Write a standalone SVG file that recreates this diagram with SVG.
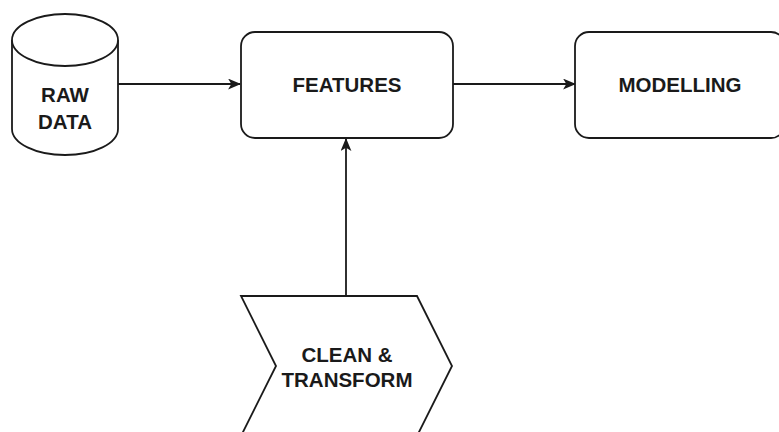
<svg xmlns="http://www.w3.org/2000/svg" width="779" height="432" viewBox="0 0 779 432">
  <style>
    .shape { fill: #ffffff; stroke: #1a1a1a; stroke-width: 1.8; }
    .edge { fill: none; stroke: #1a1a1a; stroke-width: 1.8; }
    .label { font-family: "Liberation Sans", Arial, sans-serif; font-weight: bold; font-size: 20.5px; fill: #1a1a1a; text-anchor: middle; dominant-baseline: central; }
  </style>
  <defs>
    <marker id="arrow" viewBox="0 0 12 10" refX="11" refY="5" markerWidth="13" markerHeight="11" markerUnits="userSpaceOnUse" orient="auto">
      <path d="M0,0 L12,5 L0,10 L3,5 Z" fill="#1a1a1a"/>
    </marker>
  </defs>
  <rect width="779" height="432" fill="#ffffff"/>

  <g id="connectors">
    <path class="edge" d="M118,84 L240,84" marker-end="url(#arrow)"/>
    <path class="edge" d="M453,84 L575,84" marker-end="url(#arrow)"/>
    <path class="edge" d="M346,296 L346,139" marker-end="url(#arrow)"/>
  </g>

  <g id="raw-data">
    <path class="shape" d="M12,40 L12,129 A53,26 0 0 0 118,129 L118,40 A53,26 0 0 0 12,40 Z"/>
    <path class="shape" d="M12,40 A53,26 0 0 0 118,40" fill="none"/>
    <text class="label" x="65" y="94">RAW</text>
    <text class="label" x="65" y="121">DATA</text>
  </g>

  <g id="features">
    <rect class="shape" x="241" y="32" width="212" height="106" rx="14" ry="14"/>
    <text class="label" x="347" y="84">FEATURES</text>
  </g>

  <g id="modelling">
    <rect class="shape" x="575" y="32" width="210" height="106" rx="14" ry="14"/>
    <text class="label" x="680" y="84">MODELLING</text>
  </g>

  <g id="clean-transform">
    <path class="shape" d="M241,296 L417,296 L452,366 L417,436 L241,436 L276,366 Z"/>
    <text class="label" x="347" y="354">CLEAN &amp;</text>
    <text class="label" x="347" y="379">TRANSFORM</text>
  </g>
</svg>
